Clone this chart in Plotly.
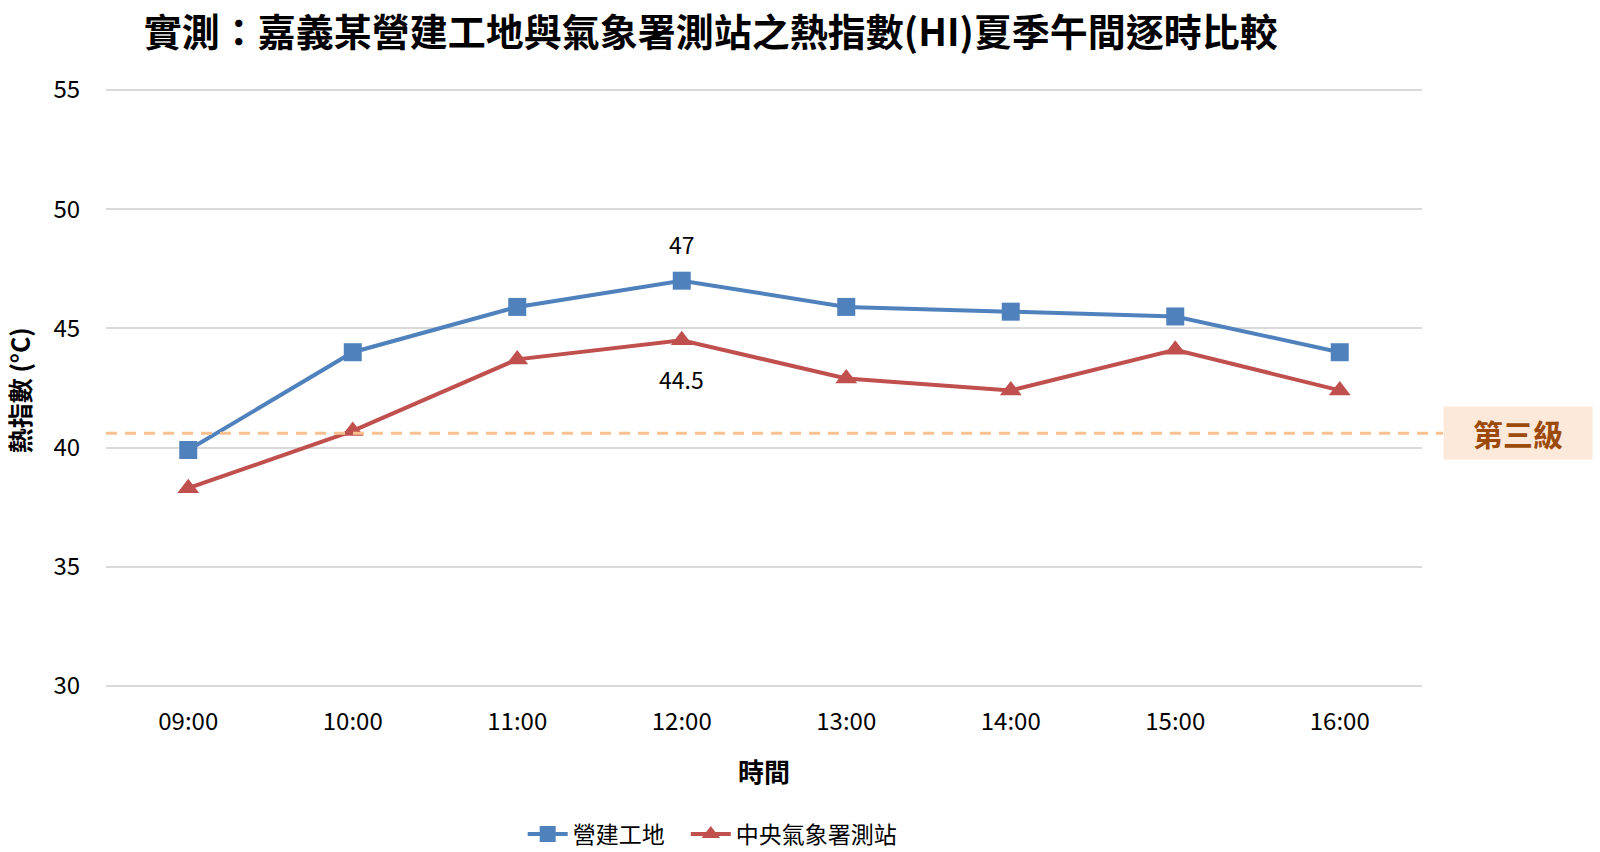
import plotly.graph_objects as go

hours = ["09:00", "10:00", "11:00", "12:00", "13:00", "14:00", "15:00", "16:00"]
site_hi = [39.9, 44.0, 45.9, 47.0, 45.9, 45.7, 45.5, 44.0]
cwa_hi = [38.3, 40.7, 43.7, 44.5, 42.9, 42.4, 44.1, 42.4]
site_name = "營建工地"
cwa_name = "中央氣象署測站"
level3_value = 40.6
level3_label = "第三級"
title_text = "實測：嘉義某營建工地與氣象署測站之熱指數(HI)夏季午間逐時比較"
y_title = "熱指數 (°C)"
x_title = "時間"
y_ticks = [30, 35, 40, 45, 50, 55]
label_index = 3

FONT = "Noto Sans CJK TC"
BLUE = "#4F81BD"
RED = "#C0504D"

fig = go.Figure()
fig.add_trace(go.Scatter(
    x=hours, y=site_hi, name=site_name + "\u2002\u2009", mode="lines+markers",
    line=dict(color=BLUE, width=4),
    marker=dict(symbol="square", size=18, color=BLUE),
))
fig.add_trace(go.Scatter(
    x=hours, y=cwa_hi, name=cwa_name, mode="lines+markers",
    line=dict(color=RED, width=4),
    marker=dict(symbol="triangle-up", size=19, color=RED),
))

# data labels at 12:00
fig.add_annotation(x=hours[label_index], y=site_hi[label_index], text=f"{site_hi[label_index]:g}",
                   showarrow=False, yshift=37, font=dict(size=23, color="#000000", family=FONT))
fig.add_annotation(x=hours[label_index], y=cwa_hi[label_index], text=f"{cwa_hi[label_index]:g}",
                   showarrow=False, yshift=-39, font=dict(size=23, color="#000000", family=FONT))

# level-3 threshold line and label
fig.add_shape(type="line", xref="paper", yref="y", x0=0, x1=1.016,
              y0=level3_value, y1=level3_value,
              line=dict(color="#FAC090", width=3, dash="11px,8px"), layer="above")
fig.add_annotation(xref="paper", yref="y", x=1.016, y=level3_value,
                   xanchor="left", yanchor="middle", text="<b>" + level3_label + "</b>",
                   showarrow=False, bgcolor="#FDE9D9", width=148, height=52,
                   borderpad=0, font=dict(size=30, color="#9C4A0A", family=FONT))

# y-axis title
fig.add_annotation(xref="paper", yref="paper", x=-0.0665, y=0.497,
                   xanchor="center", yanchor="middle", textangle=-90,
                   text="<b>" + y_title + "</b>", showarrow=False,
                   font=dict(size=25, color="#000000", family=FONT))

fig.update_layout(
    width=1600, height=852,
    paper_bgcolor="white", plot_bgcolor="white",
    margin=dict(l=106, r=177.5, t=88, b=163.5, autoexpand=False),
    font=dict(family=FONT, size=22, color="#000000"),
    title=dict(text="<b>" + title_text + "</b>", x=0.4596, xref="paper", xanchor="center",
               y=1 - 33 / 852, yref="container", yanchor="middle",
               font=dict(size=38, color="#000000", family=FONT)),
    showlegend=True,
    legend=dict(orientation="h", x=0.461, xref="paper", xanchor="center",
                y=-(832 - 686.7) / 597, yanchor="middle",
                font=dict(size=23, color="#000000", family=FONT),
                itemwidth=40, tracegroupgap=0),
    xaxis=dict(
        type="category", showgrid=False, showline=False, zeroline=False,
        ticks="outside", ticklen=12, tickcolor="rgba(0,0,0,0)",
        tickfont=dict(size=24, color="#000000"),
        title=dict(text="<b>" + x_title + "</b>", standoff=28,
                   font=dict(size=26, color="#000000")),
        range=[-0.5, 7.5],
    ),
    yaxis=dict(
        range=[29.92, 55.08], tickvals=y_ticks,
        showgrid=True, gridcolor="#D9D9D9", gridwidth=1.5,
        zeroline=False, showline=False,
        ticks="outside", ticklen=20, tickcolor="rgba(0,0,0,0)",
        tickfont=dict(size=24, color="#000000"),
    ),
)

fig.write_html("out.html", config={"displayModeBar": False},
               post_script="document.body.style.margin='0px';")
